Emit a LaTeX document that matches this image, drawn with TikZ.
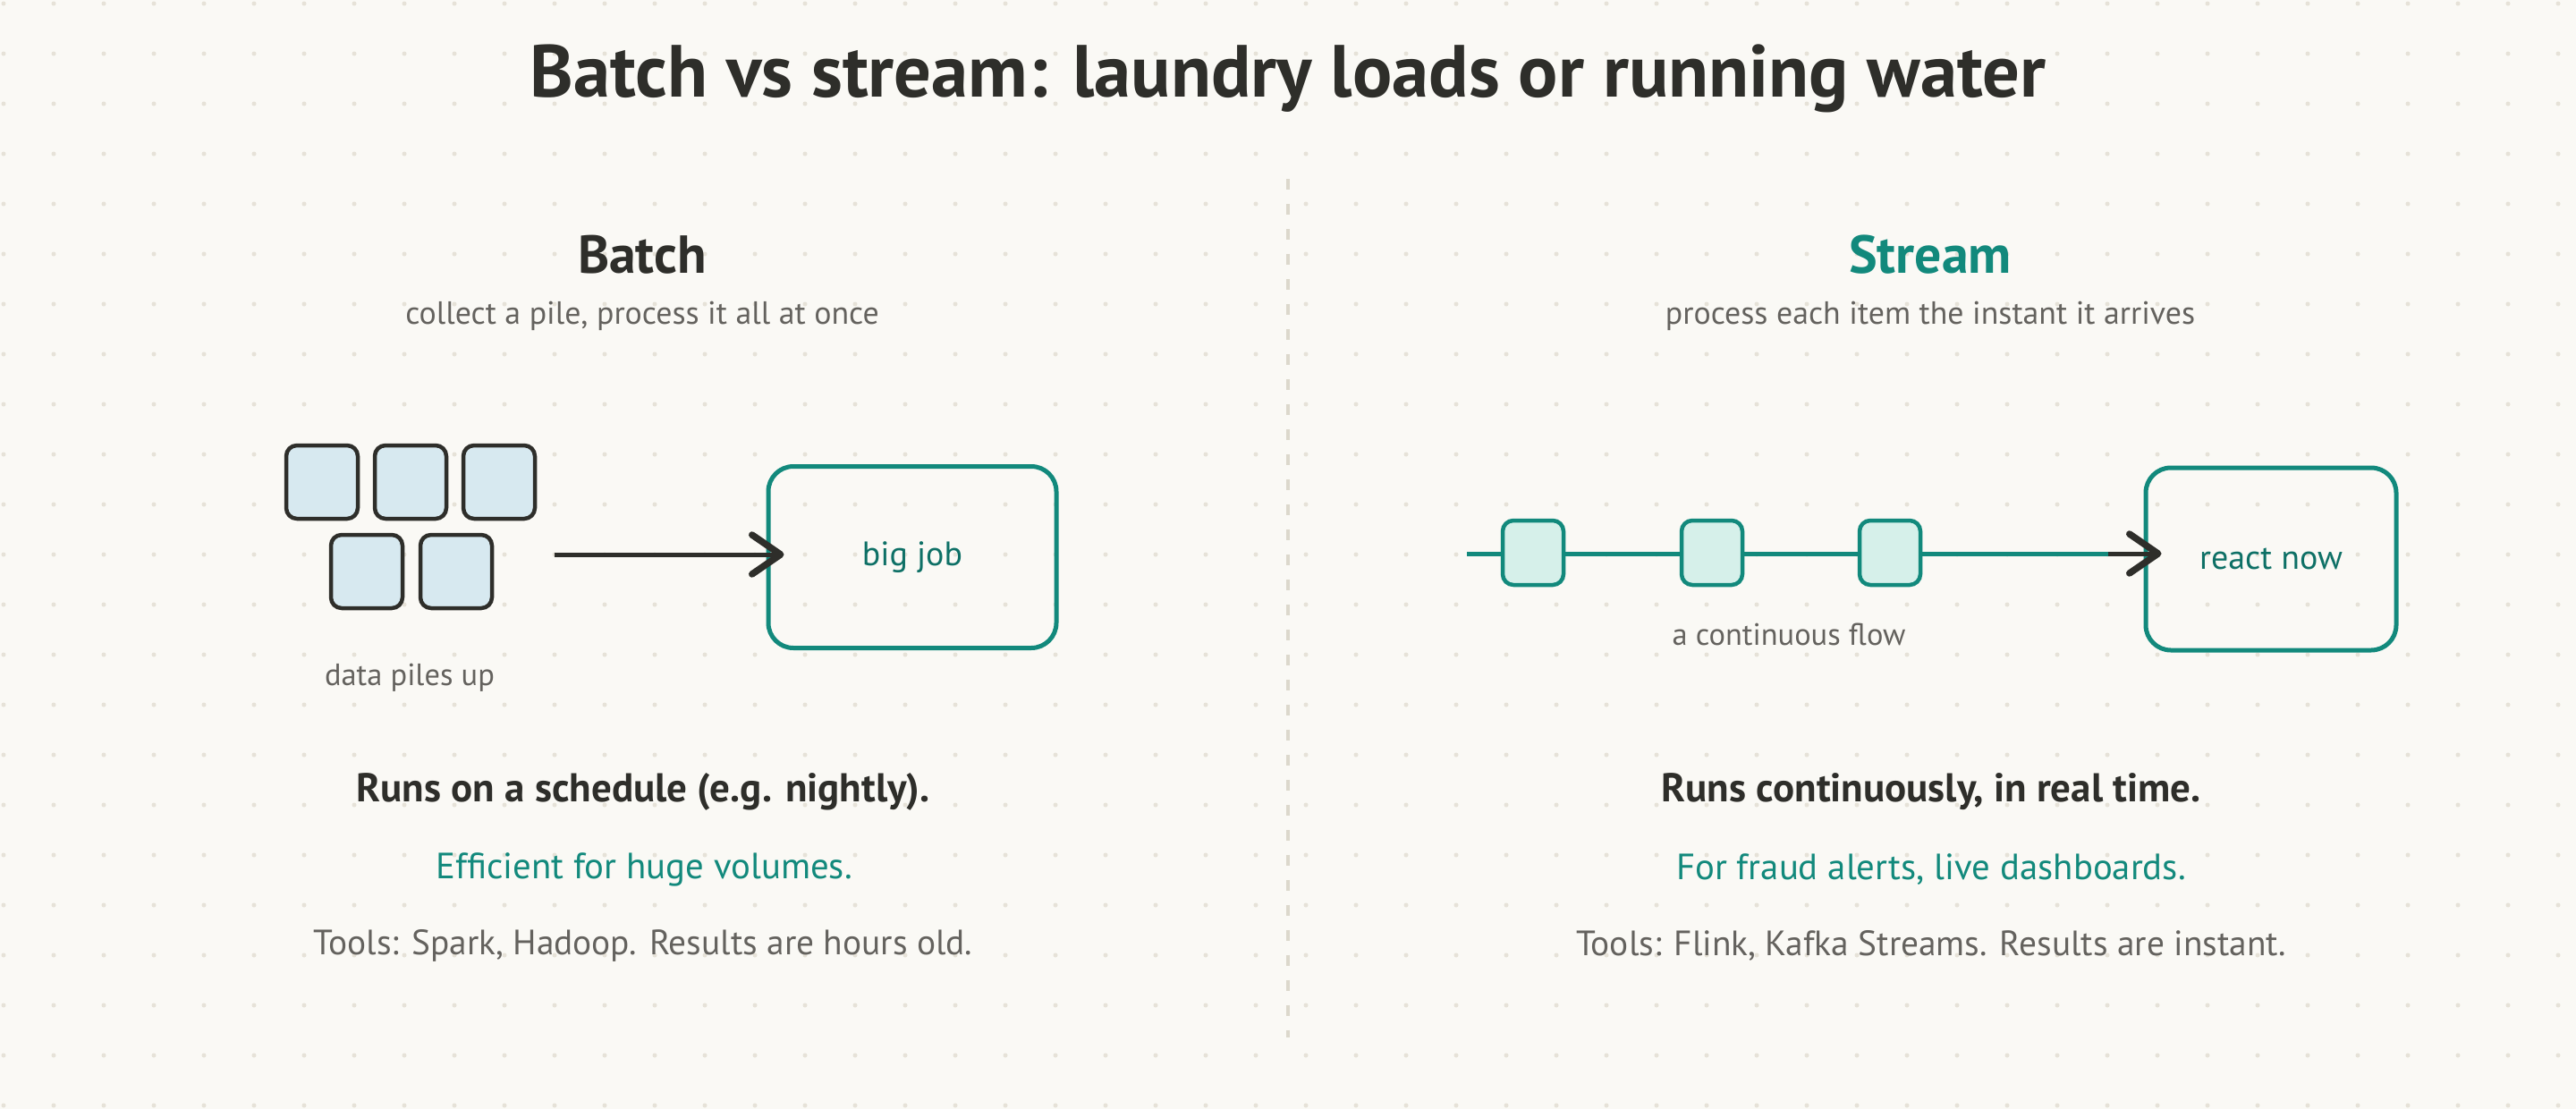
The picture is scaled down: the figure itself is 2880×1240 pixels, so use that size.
\documentclass[tikz,border=0pt]{standalone}
\usepackage{fontspec}
\setmainfont{PT Sans}
\usetikzlibrary{arrows.meta}
\definecolor{paper}{RGB}{250,249,245}
\definecolor{dotGray}{RGB}{230,226,216}
\definecolor{ruleGray}{RGB}{220,216,204}
\definecolor{inkDark}{RGB}{46,46,42}
\definecolor{noteGray}{RGB}{100,98,94}
\definecolor{tealLine}{RGB}{18,137,124}
\definecolor{tealText}{RGB}{14,112,102}
\definecolor{pileBlue}{RGB}{215,233,240}
\definecolor{itemTeal}{RGB}{214,240,234}

\begin{document}
\begin{tikzpicture}[x=0.1mm, y=-0.1mm,
    pile/.style={draw=inkDark, line width=0.45mm, fill=pileBlue, rounded corners=1.2mm,
      minimum width=8mm, minimum height=8.2mm},
    item/.style={draw=tealLine, line width=0.45mm, fill=itemTeal, rounded corners=1.2mm,
      minimum width=6.8mm, minimum height=7.2mm},
    jobbox/.style={draw=tealLine, line width=0.5mm, rounded corners=2.8mm, text=tealText,
      font=\fontsize{10.8}{12}\selectfont},
    darkarrow/.style={draw=inkDark, line width=0.5mm, shorten >=-2mm,
      -{Straight Barb[length=3.2mm, width=4.4mm, line width=0.75mm, round]}},
    flowline/.style={draw=tealLine, line width=0.5mm},
    heading/.style={font=\fontsize{17}{20}\selectfont\bfseries},
    subnote/.style={text=noteGray, font=\fontsize{10.2}{12}\selectfont},
    caption/.style={text=noteGray, font=\fontsize{9.8}{12}\selectfont},
    factline/.style={font=\fontsize{11.6}{14}\selectfont}]

  % paper and dot grid
  \fill[paper] (0,0) rectangle (2880,1240);
  \useasboundingbox (0,0) rectangle (2880,1240);
  \foreach \gx in {0,...,51}
    \foreach \gy in {0,...,22}
      \fill[dotGray] (4+56*\gx, 4+56*\gy) circle (0.25mm);

  % title and divider
  \node[text=inkDark, font=\fontsize{23.5}{28}\selectfont\bfseries] (title) at (1440,88)
    {Batch vs stream: laundry loads or running water};
  \draw[ruleGray, line width=0.4mm, dash pattern=on 1.2mm off 1.6mm] (1440,200) -- (1440,1160);

  % Batch side
  \node[heading, text=inkDark] (batchhead) at (718,285) {Batch};
  \node[subnote] (batchsub) at (718,353) {collect a pile, process it all at once};
  \node[pile] (d1) at (360,539) {};
  \node[pile] (d2) at (459,539) {};
  \node[pile] (d3) at (558,539) {};
  \node[pile] (d4) at (410,639) {};
  \node[pile] (d5) at (510,639) {};
  \node[caption] (pilecap) at (458,758) {data piles up};
  \node[jobbox, minimum width=32.2mm, minimum height=20.3mm] (bigjob) at (1020,623) {big job};
  \coordinate (pileout) at (620,620);
  \draw[darkarrow] (pileout) -- (bigjob.west |- pileout);
  \node[factline, text=inkDark, font=\fontsize{12.8}{15}\selectfont\bfseries] (batchrun) at (719,885)
    {Runs on a schedule (e.g. nightly).};
  \node[factline, text=tealLine] (batchgood) at (720,972) {Efficient for huge volumes.};
  \node[factline, text=noteGray, font=\fontsize{11.2}{14}\selectfont] (batchtools) at (719,1057)
    {Tools: Spark, Hadoop. Results are hours old.};

  % Stream side
  \node[heading, text=tealLine] (streamhead) at (2158,285) {Stream};
  \node[subnote] (streamsub) at (2158,353) {process each item the instant it arrives};
  \node[jobbox, minimum width=28mm, minimum height=20.4mm] (react) at (2539,625) {react now};
  \coordinate (flowstart) at (1640,619);
  \coordinate (flowend) at (2357,619);
  \draw[darkarrow] (flowstart) -- (react.west |- flowstart);
  \draw[flowline] (flowstart) -- (flowend);
  \foreach \n/\px in {i1/1714, i2/1914, i3/2113}
    \node[item] (\n) at (\px,618) {};
  \node[caption] (flowcap) at (2000,709) {a continuous flow};
  \node[factline, text=inkDark, font=\fontsize{12.8}{15}\selectfont\bfseries] (streamrun) at (2159,885)
    {Runs continuously, in real time.};
  \node[factline, text=tealLine] (streamgood) at (2159,972) {For fraud alerts, live dashboards.};
  \node[factline, text=noteGray, font=\fontsize{11.2}{14}\selectfont] (streamtools) at (2159,1057)
    {Tools: Flink, Kafka Streams. Results are instant.};
\end{tikzpicture}
\end{document}
